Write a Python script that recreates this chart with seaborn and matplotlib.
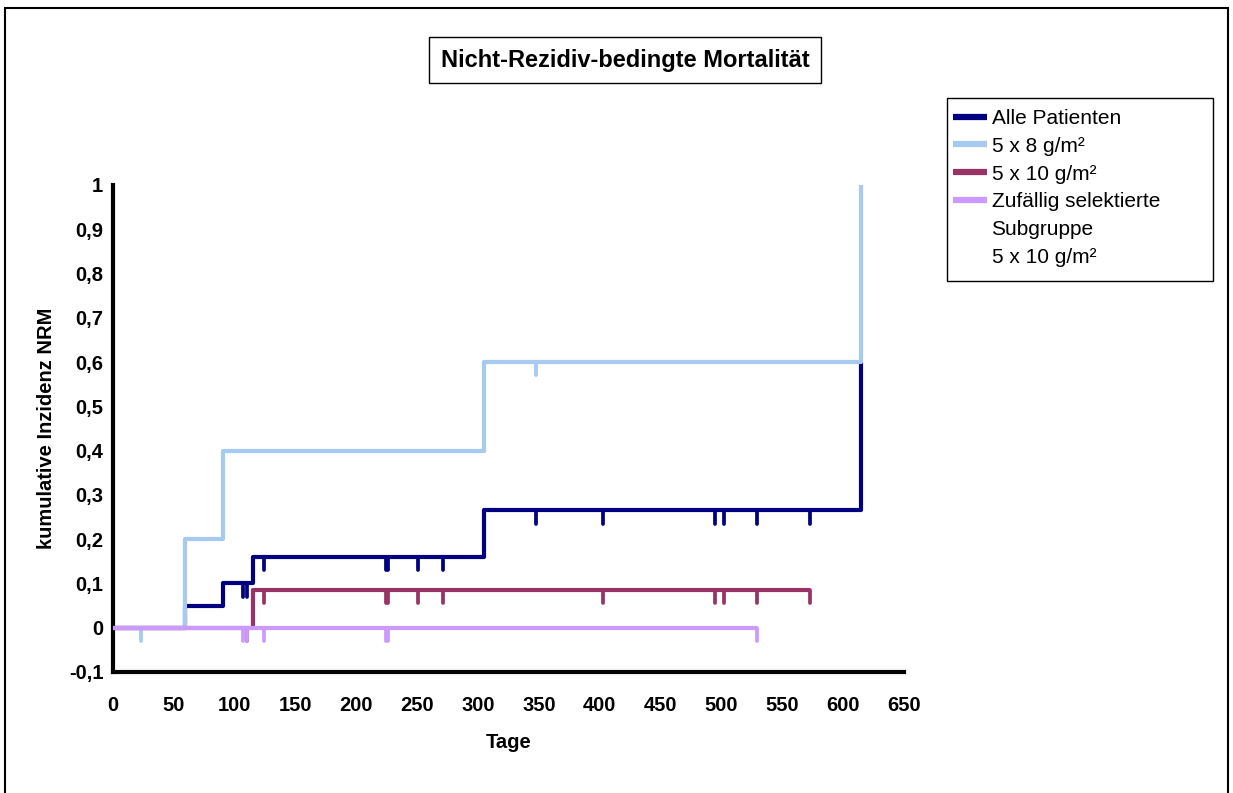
import numpy as np
import pandas as pd
import matplotlib
matplotlib.use("Agg")
import matplotlib.pyplot as plt
from matplotlib.lines import Line2D
from matplotlib.patches import Rectangle
import seaborn as sns

# ---------------- data ----------------
series_names = ["Alle Patienten", "5 x 8 g/m²", "5 x 10 g/m²",
                "Zufällig selektierte\nSubgruppe\n5 x 10 g/m²"]

alle_t = [0, 59, 90, 115, 305, 615]
alle_y = [0, 0.05, 0.10, 0.16, 0.265, 0.60]

g8_t = [0, 59, 90, 305, 615]
g8_y = [0, 0.20, 0.40, 0.60, 1.00]

g10_t = [0, 115, 573]
g10_y = [0, 0.085, 0.085]

sub_t = [0, 529]
sub_y = [0, 0]

# censoring marks (time, level)
alle_cens_t = [107, 110, 124, 224, 226, 251, 271, 348, 403, 495, 502, 529, 573]
alle_cens_y = [0.10, 0.10, 0.16, 0.16, 0.16, 0.16, 0.16, 0.265, 0.265, 0.265, 0.265, 0.265, 0.265]
g8_cens_t = [23, 348]
g8_cens_y = [0, 0.60]
g10_cens_t = [110, 124, 224, 226, 251, 271, 403, 495, 502, 529, 573]
g10_cens_y = [0, 0.085, 0.085, 0.085, 0.085, 0.085, 0.085, 0.085, 0.085, 0.085, 0.085]
sub_cens_t = [107, 110, 124, 224, 226, 529]
sub_cens_y = [0, 0, 0, 0, 0, 0]

x_ticks = list(range(0, 651, 50))
y_ticks = [-0.1, 0, 0.1, 0.2, 0.3, 0.4, 0.5, 0.6, 0.7, 0.8, 0.9, 1.0]
y_tick_labels = ["-0,1", "0", "0,1", "0,2", "0,3", "0,4", "0,5", "0,6", "0,7", "0,8", "0,9", "1"]

title = "Nicht-Rezidiv-bedingte Mortalität"
x_label = "Tage"
y_label = "kumulative Inzidenz NRM"

colors = ["#000080", "#A6CAF0", "#993366", "#CC99FF"]

# ---------------- figure ----------------
sns.set_theme(style="white")
plt.rcParams["font.family"] = ["Liberation Sans", "DejaVu Sans"]
for k in ["text.color", "axes.labelcolor", "xtick.color", "ytick.color"]:
    plt.rcParams[k] = "black"

W, H = 1233, 793
fig = plt.figure(figsize=(W / 100, H / 100), dpi=100)
ax = fig.add_axes([113 / W, 1 - 672 / H, (904 - 113) / W, (672 - 185) / H])

frames = []
for name, t, y in zip(series_names, [alle_t, g8_t, g10_t, sub_t], [alle_y, g8_y, g10_y, sub_y]):
    frames.append(pd.DataFrame({"Tage": t, "NRM": y, "Gruppe": name}))
df = pd.concat(frames, ignore_index=True)

lw = 3.0
cens = [(alle_cens_t, alle_cens_y), (g8_cens_t, g8_cens_y),
        (g10_cens_t, g10_cens_y), (sub_cens_t, sub_cens_y)]
for i, name in enumerate(series_names):
    sub = df[df["Gruppe"] == name]
    sns.lineplot(data=sub, x="Tage", y="NRM", ax=ax, color=colors[i],
                 drawstyle="steps-post", estimator=None, sort=False,
                 linewidth=lw, legend=False, solid_capstyle="butt", zorder=2 + i)
    ct, cy = cens[i]
    cy = np.array(cy)
    ax.vlines(ct, cy - 0.03, cy, colors=colors[i], linewidth=lw * 0.9,
              capstyle="round", zorder=2 + i)

ax.set_xlim(0, 650)
ax.set_ylim(-0.1, 1.0)
ax.set_xticks(x_ticks)
ax.set_xticklabels([str(v) for v in x_ticks])
ax.set_yticks(y_ticks)
ax.set_yticklabels(y_tick_labels)
for s in ["top", "right"]:
    ax.spines[s].set_visible(False)
for s in ["left", "bottom"]:
    ax.spines[s].set_linewidth(3)
    ax.spines[s].set_color("black")
ax.tick_params(axis="both", direction="out", length=5, width=2.5, color="black",
               labelsize=14.5, labelcolor="black")
ax.tick_params(axis="x", pad=12)
ax.tick_params(axis="y", pad=2)
for lab in ax.get_xticklabels() + ax.get_yticklabels():
    lab.set_fontweight("bold")
ax.set_xlabel(x_label, fontsize=14.5, fontweight="bold", labelpad=13, color="black")
ax.set_ylabel(y_label, fontsize=14.5, fontweight="bold", labelpad=9, color="black")
ax.grid(False)
ax.set_facecolor("white")

# title box
fig.text(625 / W, 1 - 60 / H, title, ha="center", va="center",
         fontsize=17, fontweight="bold", color="black",
         bbox=dict(boxstyle="square,pad=0.5", facecolor="white", edgecolor="black", linewidth=1))

# legend box
fig.patches.append(Rectangle((947 / W, 1 - 281 / H), (1213 - 947) / W, (281 - 98) / H,
                             transform=fig.transFigure, facecolor="white",
                             edgecolor="black", linewidth=1, zorder=0))
label_lines = series_names[3].split("\n")
leg_labels = series_names[:3] + label_lines
handles = [Line2D([0], [0], color=c, linewidth=4.5, solid_capstyle="butt") for c in colors]
handles += [Line2D([0], [0], color="none", linewidth=0) for _ in label_lines[1:]]
leg = fig.legend(handles, leg_labels, loc="upper left",
                 bbox_to_anchor=(953 / W, 1 - 109 / H), frameon=False,
                 fontsize=15, handlelength=1.63, handletextpad=0.22,
                 labelspacing=0.42, borderpad=0, borderaxespad=0)
for t in leg.get_texts():
    t.set_color("black")

# outer border
fig.patches.append(Rectangle((5 / W, -0.05), (1228 - 5) / W, 1 - 8 / H + 0.05,
                             transform=fig.transFigure, facecolor="none",
                             edgecolor="black", linewidth=1.5, zorder=10))

fig.savefig("out.png", dpi=100)
